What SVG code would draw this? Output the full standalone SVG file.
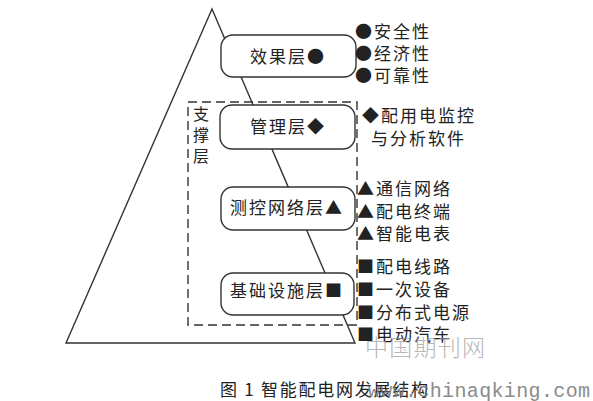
<svg xmlns="http://www.w3.org/2000/svg" width="593" height="401" viewBox="0 0 593 401">
<style>
.ln{fill:none;stroke:#333;stroke-width:1.4;stroke-linejoin:miter}
.box{fill:#fff;stroke:#333;stroke-width:1.4}
.dash{fill:none;stroke:#333;stroke-width:1.4;stroke-dasharray:9 5}
.t{font-family:"Noto Sans CJK SC","Noto Sans",sans-serif;font-size:17px;fill:#222;letter-spacing:2px}
.v{font-family:"Noto Sans CJK SC","Noto Sans",sans-serif;font-size:16px;fill:#222}
.cap{font-family:"Noto Sans CJK SC","Noto Sans",sans-serif;font-size:17px;fill:#222}
.wm{font-family:"Liberation Mono",monospace;font-size:20px;fill:#777;opacity:0.85}
.wm2{font-family:"Noto Sans CJK SC",sans-serif;font-size:23px;fill:#999;opacity:0.7;font-weight:300}
</style>
<rect width="593" height="401" fill="#fff"/>
<g id="connectors">
<polygon class="ln" points="212,9 66,343 355,343" fill="#fff"/>
<rect class="dash" x="188" y="102" width="169" height="223"/>
</g>
<g id="support-label">
<text class="v" x="193" y="120">支</text>
<text class="v" x="193" y="141">撑</text>
<text class="v" x="193" y="162">层</text>
</g>
<g id="effect">
<rect class="box" x="221" y="35" width="135" height="42" rx="12"/>
<text class="t" x="250" y="63">效果层●</text>
</g>
<g id="manage">
<rect class="box" x="220" y="105" width="135" height="44" rx="12"/>
<text class="t" x="250" y="133">管理层◆</text>
</g>
<g id="monitor">
<rect class="box" x="221" y="187" width="134" height="43" rx="12"/>
<text class="t" x="230" y="214">测控网络层▲</text>
</g>
<g id="base">
<rect class="box" x="221" y="273" width="133" height="42" rx="12"/>
<text class="t" x="230" y="297">基础设施层■</text>
</g>
<g id="lists">
<text class="t" x="355" y="38">●安全性</text>
<text class="t" x="355" y="60">●经济性</text>
<text class="t" x="355" y="82">●可靠性</text>
<text class="t" x="362" y="122">◆配用电监控</text>
<text class="t" x="371" y="145">与分析软件</text>
<text class="t" x="357" y="195">▲通信网络</text>
<text class="t" x="357" y="218">▲配电终端</text>
<text class="t" x="357" y="240">▲智能电表</text>
<text class="t" x="357" y="273">■配电线路</text>
<text class="t" x="357" y="296">■一次设备</text>
<text class="t" x="357" y="319">■分布式电源</text>
<text class="t" x="357" y="341">■电动汽车</text>
</g>
<text class="cap" x="220" y="396" textLength="208">图 1 智能配电网发展结构</text>
<text class="wm2" x="365" y="356" textLength="120">中国期刊网</text>
<text class="wm" x="368" y="397" textLength="222">www.chinaqking.com</text>
</svg>
